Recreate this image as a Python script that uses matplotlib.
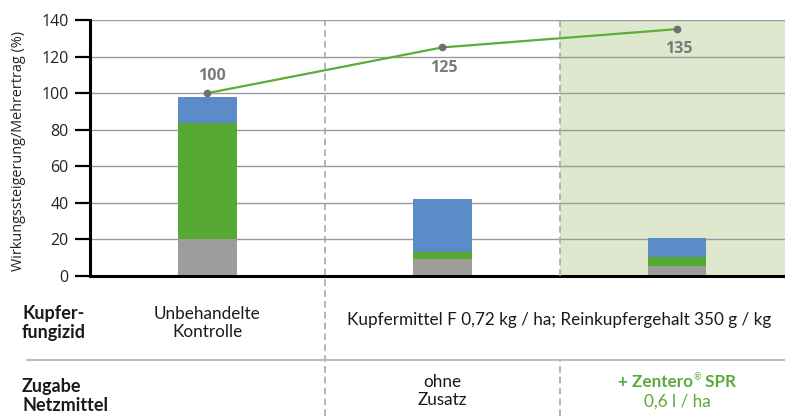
import matplotlib
matplotlib.use("Agg")
import matplotlib.pyplot as plt
import matplotlib.transforms as mtransforms
from matplotlib.lines import Line2D

# --- data -------------------------------------------------------------
categories = ["Unbehandelte\nKontrolle", "ohne\nZusatz", "+ Zentero® SPR\n0,6 l / ha"]
seg_gray = [20.5, 9.5, 5.5]
seg_green = [63.0, 3.6, 4.7]
seg_blue = [14.5, 29.0, 10.6]
efficacy = [100, 125, 135]
yticks = [0, 20, 40, 60, 80, 100, 120, 140]
ylabel = "Wirkungssteigerung/Mehrertrag (%)"

# --- styling ----------------------------------------------------------
C_GRAY = "#9d9d9c"
C_GREEN = "#56a933"
C_BLUE = "#5b8bc9"
C_LINE = "#5cad35"
C_SHADE = "#dde8cf"
C_TXT_GREEN = "#5aaa3a"
W, H = 785, 416

plt.rcParams["font.family"] = ["Open Sans", "DejaVu Sans"]

fig = plt.figure(figsize=(W / 100, H / 100), dpi=100)
ax = fig.add_axes([90 / W, 1 - 276 / H, 1 - 90 / W, (276 - 20) / H])

x = list(range(len(categories)))
bw = 0.25

# shaded area for the Zentero treatment
ax.axvspan(1.5, 2.46, color=C_SHADE, zorder=0, lw=0)

# horizontal grid
for t in yticks[1:]:
    ax.axhline(t, color="#9a9a9a", lw=1.0, zorder=1)

# stacked bars
bottom2 = [a + b for a, b in zip(seg_gray, seg_green)]
ax.bar(x, seg_gray, width=bw, color=C_GRAY, zorder=3)
ax.bar(x, seg_green, width=bw, bottom=seg_gray, color=C_GREEN, zorder=3)
ax.bar(x, seg_blue, width=bw, bottom=bottom2, color=C_BLUE, zorder=3)

# efficacy line
ax.plot(x, efficacy, color=C_LINE, lw=1.6, zorder=4)
ax.plot(x, efficacy, "o", color="#6f6f6f", ms=4.5, zorder=5)
offsets = [12, -15, -14]
dx = [3, 1, 1]
for xi, v, oy, ox in zip(x, efficacy, offsets, dx):
    ax.annotate(f"{v}", (xi, v), xytext=(ox, oy), textcoords="offset points",
                ha="center", va="center", fontsize=11.5, fontweight="bold",
                color="#7a7a7a", zorder=6)

ax.set_xlim(-0.5, 2.46)
ax.set_ylim(0, 140)
ax.set_yticks(yticks)
ax.set_xticks([])
ax.tick_params(axis="y", direction="out", length=10.5, width=1.6,
               pad=5, labelsize=11.5, colors="black")
ax.tick_params(axis="y", labelcolor="#222222")
for s in ["top", "right"]:
    ax.spines[s].set_visible(False)
ax.spines["left"].set_linewidth(2.2)
ax.spines["bottom"].set_linewidth(2.2)
ax.spines["left"].set_zorder(7)
ax.spines["bottom"].set_zorder(7)
ax.set_ylabel(ylabel, fontsize=10.4, color="#222222")
ax.yaxis.set_label_coords(-0.092, 0.49)

# dashed separators reaching into the table below
trans = mtransforms.blended_transform_factory(ax.transData, fig.transFigure)
y_top = 1 - 20 / H
y_axis = 1 - 276 / H
y_sep = 1 - 360 / H
dash_kw = dict(color="#a8a8a8", lw=1.2, linestyle=(0, (4, 2.5)),
               transform=trans, clip_on=False, zorder=2)
fig.add_artist(Line2D([0.5, 0.5], [0, y_top], **dash_kw))
fig.add_artist(Line2D([1.5, 1.5], [y_axis, y_top], **dash_kw))
fig.add_artist(Line2D([1.5, 1.5], [0, y_sep], **dash_kw))

# table separator
fig.add_artist(Line2D([27 / W, 1], [y_sep, y_sep], color="#bdbdbd", lw=1.5,
                      transform=fig.transFigure))

# table text
FAM = ["Lato", "DejaVu Sans"]
tkw = dict(fontsize=12.3, family=FAM, linespacing=1.15)
bkw = dict(fontsize=13, family=FAM, linespacing=1.1, fontweight="bold",
           color="#1a1a1a")
fig.text(22 / W, 1 - 323 / H, "Kupfer-\nfungizid", ha="left", va="center", **bkw)
fig.text(22 / W, 1 - 396 / H, "Zugabe\nNetzmittel", ha="left", va="center", **bkw)

row1_y = 1 - 323 / H
row2_y = 1 - 391 / H
fig.text(0, row1_y, categories[0], transform=trans, ha="center",
         va="center", color="#1a1a1a", **tkw)
fig.text(1.5, 1 - 320 / H, "Kupfermittel F 0,72 kg / ha; Reinkupfergehalt 350 g / kg",
         transform=trans, ha="center", va="center", color="#1a1a1a", **tkw)
fig.text(1, row2_y, categories[1], transform=trans, ha="center",
         va="center", color="#1a1a1a", **tkw)

# product name with a small raised registered sign, assembled from pieces
zl1, zl2 = categories[2].split("\n")
name, rest = zl1.split("®")
zkw = dict(color=C_TXT_GREEN, fontweight="bold", fontsize=12.3, family=FAM)
renderer = fig.canvas.get_renderer()
t_name = fig.text(0, 0, name, **zkw)
t_reg = fig.text(0, 0, "®", **{**zkw, "fontsize": 6.5, "fontweight": "normal"})
t_rest = fig.text(0, 0, rest, **zkw)
w_name = t_name.get_window_extent(renderer).width
w_reg = t_reg.get_window_extent(renderer).width
w_rest = t_rest.get_window_extent(renderer).width
cx_px = ax.transData.transform((2, 0))[0]
x0 = cx_px - (w_name + w_reg + w_rest) / 2
base_y = (H - 387)
t_name.set_position((x0 / W, base_y / H))
t_reg.set_position(((x0 + w_name) / W, (base_y + 7) / H))
t_rest.set_position(((x0 + w_name + w_reg) / W, base_y / H))
for t in (t_name, t_reg, t_rest):
    t.set_va("baseline")
    t.set_ha("left")

fig.text(2, 1 - 402 / H, zl2, transform=trans, ha="center", va="center",
         color=C_TXT_GREEN, fontsize=12.3, family=FAM)

fig.savefig("out.png", dpi=100)
